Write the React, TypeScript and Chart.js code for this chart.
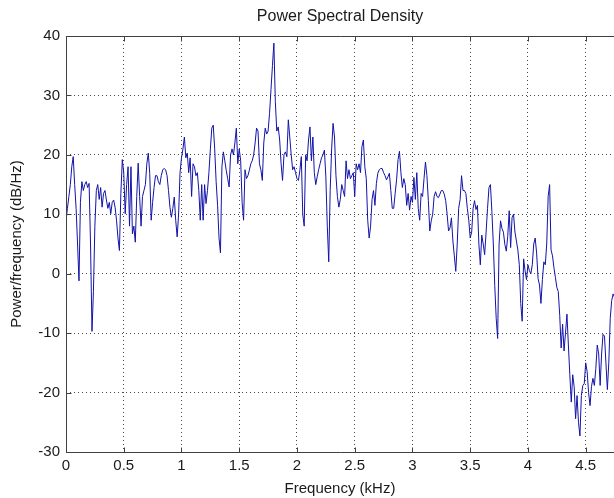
import React, { useEffect, useRef } from "react";
import { Chart, registerables } from "chart.js";

Chart.register(...registerables);

const titleText = "Power Spectral Density";
const xTitle = "Frequency (kHz)";
const yTitle = "Power/frequency (dB/Hz)";

const xTickValues = [0, 0.5, 1, 1.5, 2, 2.5, 3, 3.5, 4, 4.5];
const yTickValues = [-30, -20, -10, 0, 10, 20, 30, 40];

const freqKHz = [
  0.0000, 0.0125, 0.0250, 0.0375, 0.0500, 0.0625, 0.0750, 0.0875, 0.1000, 0.1125,
  0.1250, 0.1375, 0.1500, 0.1625, 0.1750, 0.1875, 0.2000, 0.2125, 0.2250, 0.2375,
  0.2500, 0.2625, 0.2750, 0.2875, 0.3000, 0.3125, 0.3250, 0.3375, 0.3500, 0.3625,
  0.3750, 0.3875, 0.4000, 0.4125, 0.4250, 0.4375, 0.4500, 0.4625, 0.4750, 0.4875,
  0.5000, 0.5125, 0.5250, 0.5375, 0.5500, 0.5625, 0.5750, 0.5875, 0.6000, 0.6125,
  0.6250, 0.6375, 0.6500, 0.6625, 0.6750, 0.6875, 0.7000, 0.7125, 0.7250, 0.7375,
  0.7500, 0.7625, 0.7750, 0.7875, 0.8000, 0.8125, 0.8250, 0.8375, 0.8500, 0.8625,
  0.8750, 0.8875, 0.9000, 0.9125, 0.9250, 0.9375, 0.9500, 0.9625, 0.9750, 0.9875,
  1.0000, 1.0125, 1.0250, 1.0375, 1.0500, 1.0625, 1.0750, 1.0875, 1.1000, 1.1125,
  1.1250, 1.1375, 1.1500, 1.1625, 1.1750, 1.1875, 1.2000, 1.2125, 1.2250, 1.2375,
  1.2500, 1.2625, 1.2750, 1.2875, 1.3000, 1.3125, 1.3250, 1.3375, 1.3500, 1.3625,
  1.3750, 1.3875, 1.4000, 1.4125, 1.4250, 1.4375, 1.4500, 1.4625, 1.4750, 1.4875,
  1.5000, 1.5125, 1.5250, 1.5375, 1.5500, 1.5625, 1.5750, 1.5875, 1.6000, 1.6125,
  1.6250, 1.6375, 1.6500, 1.6625, 1.6750, 1.6875, 1.7000, 1.7125, 1.7250, 1.7375,
  1.7500, 1.7625, 1.7750, 1.7875, 1.8000, 1.8125, 1.8250, 1.8375, 1.8500, 1.8625,
  1.8750, 1.8875, 1.9000, 1.9125, 1.9250, 1.9375, 1.9500, 1.9625, 1.9750, 1.9875,
  2.0000, 2.0125, 2.0250, 2.0375, 2.0500, 2.0625, 2.0750, 2.0875, 2.1000, 2.1125,
  2.1250, 2.1375, 2.1500, 2.1625, 2.1750, 2.1875, 2.2000, 2.2125, 2.2250, 2.2375,
  2.2500, 2.2625, 2.2750, 2.2875, 2.3000, 2.3125, 2.3250, 2.3375, 2.3500, 2.3625,
  2.3750, 2.3875, 2.4000, 2.4125, 2.4250, 2.4375, 2.4500, 2.4625, 2.4750, 2.4875,
  2.5000, 2.5125, 2.5250, 2.5375, 2.5500, 2.5625, 2.5750, 2.5875, 2.6000, 2.6125,
  2.6250, 2.6375, 2.6500, 2.6625, 2.6750, 2.6875, 2.7000, 2.7125, 2.7250, 2.7375,
  2.7500, 2.7625, 2.7750, 2.7875, 2.8000, 2.8125, 2.8250, 2.8375, 2.8500, 2.8625,
  2.8750, 2.8875, 2.9000, 2.9125, 2.9250, 2.9375, 2.9500, 2.9625, 2.9750, 2.9875,
  3.0000, 3.0125, 3.0250, 3.0375, 3.0500, 3.0625, 3.0750, 3.0875, 3.1000, 3.1125,
  3.1250, 3.1375, 3.1500, 3.1625, 3.1750, 3.1875, 3.2000, 3.2125, 3.2250, 3.2375,
  3.2500, 3.2625, 3.2750, 3.2875, 3.3000, 3.3125, 3.3250, 3.3375, 3.3500, 3.3625,
  3.3750, 3.3875, 3.4000, 3.4125, 3.4250, 3.4375, 3.4500, 3.4625, 3.4750, 3.4875,
  3.5000, 3.5125, 3.5250, 3.5375, 3.5500, 3.5625, 3.5750, 3.5875, 3.6000, 3.6125,
  3.6250, 3.6375, 3.6500, 3.6625, 3.6750, 3.6875, 3.7000, 3.7125, 3.7250, 3.7375,
  3.7500, 3.7625, 3.7750, 3.7875, 3.8000, 3.8125, 3.8250, 3.8375, 3.8500, 3.8625,
  3.8750, 3.8875, 3.9000, 3.9125, 3.9250, 3.9375, 3.9500, 3.9625, 3.9750, 3.9875,
  4.0000, 4.0125, 4.0250, 4.0375, 4.0500, 4.0625, 4.0750, 4.0875, 4.1000, 4.1125,
  4.1250, 4.1375, 4.1500, 4.1625, 4.1750, 4.1875, 4.2000, 4.2125, 4.2250, 4.2375,
  4.2500, 4.2625, 4.2750, 4.2875, 4.3000, 4.3125, 4.3250, 4.3375, 4.3500, 4.3625,
  4.3750, 4.3875, 4.4000, 4.4125, 4.4250, 4.4375, 4.4500, 4.4625, 4.4750, 4.4875,
  4.5000, 4.5125, 4.5250, 4.5375, 4.5500, 4.5625, 4.5750, 4.5875, 4.6000, 4.6125,
  4.6250, 4.6375, 4.6500, 4.6625, 4.6750, 4.6875, 4.7000, 4.7125, 4.7250, 4.7375,
  4.7500,
];

const psdDb = [
  9, 11, 13, 15, 18, 19.7, 15, 11, 5, -1.2,
  12, 15.5, 14, 15, 15.5, 14.5, 15.2, 5, -9.7, -3,
  8, 14, 15, 12.5, 14.5, 11.2, 13.5, 14, 12.4, 11,
  12, 10.1, 12, 12.4, 11.2, 9, 6, 3.9, 13.5, 19.2,
  17, 10.1, 15, 18, 8, 18, 6.7, 8, 5.3, 13,
  18.6, 13, 8, 13, 14, 15, 18.5, 20.3, 16.9, 9,
  12, 14.5, 16.5, 16.5, 15.5, 15, 16.5, 17.5, 17.7, 17.5,
  16.5, 14, 11.2, 9.5, 11, 12.9, 9, 6.2, 10, 17,
  19.5, 21, 23, 19.5, 20.3, 17, 19.5, 13, 18.5, 18,
  16.5, 17, 14, 9, 15, 9, 15, 11.8, 14, 17,
  21, 24.5, 25, 21, 15.5, 11.5, 6, 3.5, 18, 20.5,
  19, 17.4, 16, 14.6, 20, 21, 20, 22, 24.5, 18.5,
  21, 19, 12, 9, 17.5, 16, 16.5, 17.4, 18.5, 19,
  20, 22, 24.5, 24, 18.5, 17.5, 15.7, 22, 24.5, 23.5,
  24, 27, 31, 35, 38.8, 29, 24, 24.7, 22.5, 18.5,
  15.7, 20, 20.5, 19.7, 25.9, 23, 20, 17.5, 18, 17,
  16, 15.7, 17.4, 19.7, 10, 8, 20, 19, 22.5, 24.7,
  19, 23, 17, 15, 16.3, 17.5, 18.5, 19.5, 20, 20.8,
  16.3, 8, 2, 14, 21, 25.3, 23, 16.5, 13, 11.2,
  12.5, 15, 14, 13, 19, 16, 17.5, 16, 16.5, 17,
  13, 18.5, 17.5, 18.5, 17, 21.4, 22.5, 18, 16, 9,
  6, 8, 12.5, 14, 11.5, 15.2, 16.9, 17.5, 17.7, 17.7,
  17, 16.5, 15.8, 16.3, 16.9, 14, 11, 11, 13.5, 15.8,
  19.2, 20.6, 17, 14.5, 16, 15, 11.5, 13.5, 10.7, 13,
  12, 16.2, 12.5, 17, 11, 9, 13.5, 13, 16, 18.8,
  16.5, 12.3, 7.2, 8.9, 10, 13, 13.8, 13, 12.8, 13.4,
  14, 14, 13.4, 12.3, 10, 7.2, 7.7, 9.4, 5.5, 3,
  0.4, 5, 11, 12.5, 16.5, 14, 14, 13.5, 11, 9,
  6, 7, 11, 12.3, 10.8, 11.5, 5, 1.5, 6.5, 5,
  3.2, 7, 11, 14.5, 15, 10.5, 5, -2, -7.5, -10.9,
  5, 8.9, 7.6, 7, 4.9, 3.8, 6.3, 10.6, 4.4, 9.5,
  10, 7, 5.5, 4, 1.5, -5, -8, 2.5, 0.5, -1,
  1.5, 0.5, 0, 1.5, 5, 6, 3.5, -0.8, -1.9, -5,
  -1, 2, 1.5, 5, 13, 15, 4, 3, 1, -0.6,
  -2.3, -3, -7, -12.5, -8.5, -13, -10, -6.8, -12, -17,
  -21.6, -17, -19, -24.4, -20.5, -25, -27.3, -20.5, -18.8, -18.5,
  -15, -16.5, -20, -22.2, -19, -17.6, -18.8, -16, -12, -13.5,
  -18.8, -13.5, -10.2, -10.5, -15, -19.5, -15, -7.5, -4.5, -3.4,
  -4,
];

const FONT = "'Liberation Sans', Arial, Helvetica, sans-serif";
const TEXT_COLOR = "#1a1a1a";

const framePlugin = {
  id: "matlabFrame",
  afterDatasetsDraw(chart: any) {
    const { ctx, chartArea, scales } = chart;
    const { left, right, top, bottom } = chartArea;
    const xs = scales.x;
    const ys = scales.y;
    ctx.save();
    ctx.strokeStyle = "#404040";
    ctx.lineWidth = 1;
    ctx.setLineDash([]);
    const L = Math.round(left) + 0.5;
    const T = Math.round(top) + 0.5;
    const B = Math.round(bottom) + 0.5;
    ctx.beginPath();
    ctx.moveTo(right, T);
    ctx.lineTo(L, T);
    ctx.lineTo(L, B);
    ctx.lineTo(right, B);
    ctx.stroke();
    const tl = 5;
    ctx.beginPath();
    for (const v of xTickValues) {
      const px = Math.round(xs.getPixelForValue(v)) + 0.5;
      ctx.moveTo(px, B);
      ctx.lineTo(px, B - tl);
      ctx.moveTo(px, T);
      ctx.lineTo(px, T + tl);
    }
    for (const v of yTickValues) {
      const py = Math.round(ys.getPixelForValue(v)) + 0.5;
      ctx.moveTo(L, py);
      ctx.lineTo(L + tl, py);
    }
    ctx.stroke();
    ctx.restore();
  },
};

export default function App() {
  const ref = useRef<HTMLCanvasElement | null>(null);

  useEffect(() => {
    const canvas = ref.current;
    if (!canvas) return;
    const points = freqKHz.map((f, i) => ({ x: f, y: psdDb[i] }));
    const chart = new Chart(canvas, {
      type: "line",
      data: {
        datasets: [
          {
            data: points,
            borderColor: "#1212a8",
            borderWidth: 1,
            pointRadius: 0,
            tension: 0,
            fill: false,
          },
        ],
      },
      options: {
        responsive: false,
        animation: false,
        devicePixelRatio: 1,
        layout: { padding: { left: 0, right: 0, top: 0, bottom: 0 } },
        plugins: {
          legend: { display: false },
          tooltip: { enabled: false },
          title: {
            display: true,
            fullSize: false,
            text: titleText,
            color: TEXT_COLOR,
            font: { family: FONT, size: 16, weight: "normal" },
            padding: { top: 7, bottom: 9.8 },
          },
        },
        scales: {
          x: {
            type: "linear",
            min: 0,
            max: 4.745,
            afterBuildTicks: (scale: any) => {
              scale.ticks = xTickValues.map((v) => ({ value: v }));
            },
            afterFit: (scale: any) => {
              scale.height = 46;
              scale.paddingLeft = 0;
              scale.paddingRight = 0;
            },
            ticks: {
              color: TEXT_COLOR,
              font: { family: FONT, size: 15 },
              padding: 5,
              maxRotation: 0,
              autoSkip: false,
              callback: (v: any) => String(v),
            },
            grid: {
              color: "#4a4a4a",
              lineWidth: 1,
              drawTicks: false,
            },
            border: { display: false, dash: [1, 3] },
            title: {
              display: true,
              text: xTitle,
              color: TEXT_COLOR,
              font: { family: FONT, size: 15 },
              padding: { top: 2, bottom: 0 },
            },
          },
          y: {
            type: "linear",
            min: -30,
            max: 40,
            afterBuildTicks: (scale: any) => {
              scale.ticks = yTickValues.map((v) => ({ value: v }));
            },
            afterFit: (scale: any) => {
              scale.width = 66;
            },
            ticks: {
              color: TEXT_COLOR,
              font: { family: FONT, size: 15 },
              padding: 6,
              autoSkip: false,
              callback: (v: any) => String(v),
            },
            grid: {
              color: "#4a4a4a",
              lineWidth: 1,
              drawTicks: false,
            },
            border: { display: false, dash: [1, 3] },
            title: {
              display: true,
              text: yTitle,
              color: TEXT_COLOR,
              font: { family: FONT, size: 15 },
              padding: { top: 8, bottom: 0 },
            },
          },
        },
      },
      plugins: [framePlugin],
    });
    return () => chart.destroy();
  }, []);

  return (
    <div style={{ position: "fixed", left: 0, top: 0, width: 614, height: 498, background: "#fff" }}>
      <canvas ref={ref} width={614} height={498} style={{ display: "block" }} />
    </div>
  );
}
